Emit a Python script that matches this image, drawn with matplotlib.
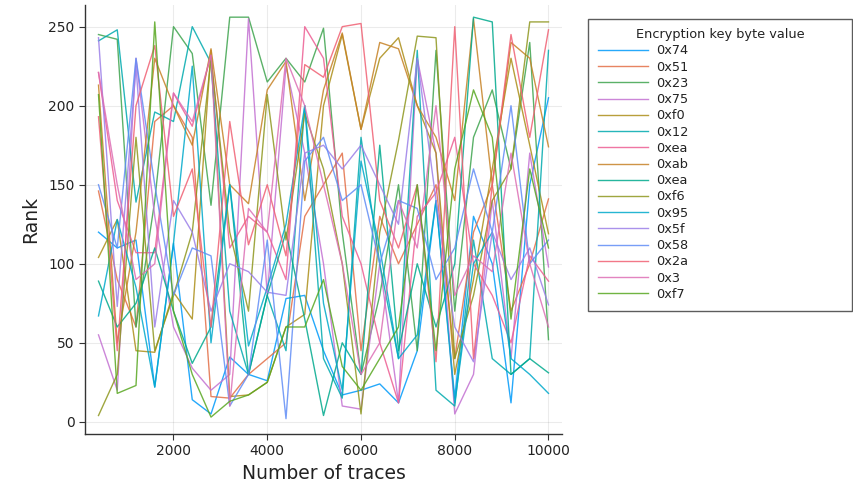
import numpy as np
import matplotlib
matplotlib.use("Agg")
import matplotlib.pyplot as plt

traces = list(range(400, 10001, 400))

labels = ["0x74", "0x51", "0x23", "0x75", "0xf0", "0x12", "0xea", "0xab",
          "0xea", "0xf6", "0x95", "0x5f", "0x58", "0x2a", "0x3", "0xf7"]

colors = ["#009AFA", "#E36F47", "#3EA44E", "#C371D2", "#AC8E18", "#00AAAE",
          "#ED5E93", "#C68225", "#00A98D", "#8E971E", "#00A9CB", "#9B7FE8",
          "#618DF6", "#F06073", "#DD6FB5", "#58A721"]

r_0x74 = [120, 110, 115, 22, 113, 14, 5, 41, 30, 26, 78, 80, 45, 17, 20, 24, 12, 45, 140, 15, 130, 100, 12, 150, 205]
r_0x51 = [146, 90, 60, 190, 200, 180, 16, 15, 30, 40, 50, 130, 150, 170, 45, 130, 100, 125, 150, 40, 120, 150, 70, 100, 141]
r_0x23 = [245, 242, 60, 140, 250, 233, 137, 256, 256, 215, 230, 215, 249, 120, 30, 80, 150, 45, 235, 70, 180, 210, 160, 240, 52]
r_0x75 = [55, 20, 230, 130, 60, 34, 20, 30, 255, 80, 225, 170, 100, 10, 8, 100, 12, 230, 170, 5, 30, 140, 40, 170, 98]
r_0xf0 = [104, 128, 45, 44, 82, 65, 235, 16, 17, 25, 60, 68, 200, 245, 185, 230, 243, 200, 170, 30, 90, 160, 230, 175, 119]
r_0x12 = [241, 248, 139, 196, 190, 250, 227, 70, 30, 80, 45, 200, 40, 15, 180, 100, 40, 235, 20, 10, 115, 40, 30, 40, 235]
r_0xea = [221, 140, 107, 107, 208, 187, 232, 110, 130, 120, 90, 250, 230, 130, 100, 50, 12, 130, 145, 180, 100, 80, 50, 105, 89]
r_0xab = [213, 50, 120, 230, 200, 175, 236, 150, 138, 210, 228, 140, 210, 246, 185, 240, 236, 200, 180, 140, 255, 150, 240, 230, 174]
r_0xea2 = [89, 60, 75, 110, 70, 37, 60, 150, 30, 80, 120, 65, 4, 50, 30, 175, 45, 100, 60, 100, 256, 253, 30, 40, 31]
r_0xf6 = [4, 30, 180, 45, 80, 120, 230, 120, 70, 207, 115, 195, 160, 100, 5, 120, 178, 244, 243, 40, 80, 140, 160, 253, 253]
r_0x95 = [67, 128, 85, 22, 113, 225, 50, 150, 48, 85, 125, 200, 75, 20, 165, 110, 40, 55, 140, 12, 100, 120, 40, 30, 18]
r_0x5f = [243, 73, 225, 60, 140, 120, 70, 100, 95, 82, 80, 170, 175, 160, 175, 150, 125, 230, 140, 60, 38, 120, 90, 110, 74]
r_0x58 = [150, 110, 230, 150, 80, 110, 105, 10, 30, 115, 2, 165, 180, 140, 150, 100, 140, 135, 90, 110, 160, 120, 200, 100, 115]
r_0x2a = [193, 45, 200, 238, 130, 160, 60, 190, 112, 150, 105, 226, 218, 250, 252, 140, 110, 150, 38, 250, 40, 150, 245, 180, 248]
r_0x3 = [221, 150, 90, 100, 208, 190, 232, 10, 135, 120, 230, 200, 150, 100, 30, 50, 140, 110, 200, 80, 105, 95, 170, 100, 60]
r_0xf7 = [207, 18, 23, 253, 70, 30, 3, 13, 17, 25, 60, 60, 90, 35, 20, 40, 60, 150, 45, 160, 210, 180, 65, 160, 110]

series = [r_0x74, r_0x51, r_0x23, r_0x75, r_0xf0, r_0x12, r_0xea, r_0xab,
          r_0xea2, r_0xf6, r_0x95, r_0x5f, r_0x58, r_0x2a, r_0x3, r_0xf7]

plt.rcParams['font.family'] = ['DejaVu Sans']
fig = plt.figure(figsize=(8.54, 4.86), dpi=100)
ax = fig.add_axes([85/854, 1-434/486, (562-85)/854, (434-5)/486])

for vals, lab, col in zip(series, labels, colors):
    ax.plot(traces, vals, color=col, lw=1.0, alpha=0.85, label=lab)

ax.set_xlim(112, 10288)
ax.set_ylim(-7.7, 263.7)
ax.set_xticks([2000, 4000, 6000, 8000, 10000])
ax.set_yticks([0, 50, 100, 150, 200, 250])
ax.grid(True, color='#000000', alpha=0.08, lw=0.8)
for s in ['top', 'right']:
    ax.spines[s].set_visible(False)
for s in ['left', 'bottom']:
    ax.spines[s].set_color('#333333')
    ax.spines[s].set_linewidth(1.0)
ax.tick_params(direction='out', length=4, width=0.8, colors='#333333',
               labelsize=10, labelcolor='#222222')
ax.set_xlabel("Number of traces", fontsize=13.5, color='#222222', labelpad=4)
ax.set_ylabel("Rank", fontsize=13.5, color='#222222', labelpad=6)

leg = fig.legend(loc='upper left',
                 bbox_to_anchor=(588/854, 1-19/486, 264/854, 0.001),
                 mode='expand', title="Encryption key byte value",
                 fontsize=9.3, title_fontsize=9.3, frameon=True, fancybox=False,
                 handlelength=3.9, handletextpad=0.6, labelspacing=0.25,
                 borderpad=0.75, borderaxespad=0)
leg.get_frame().set_edgecolor('#333333')
leg.get_frame().set_linewidth(1.0)
for t in leg.get_texts():
    t.set_color('#222222')
leg.get_title().set_color('#222222')

fig.savefig("out.png", dpi=100)
